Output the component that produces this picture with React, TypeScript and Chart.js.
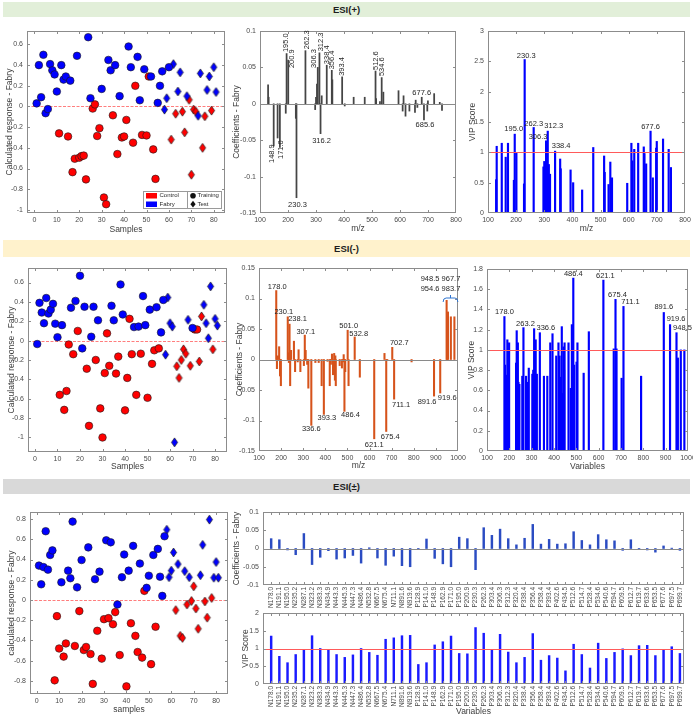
import React, { useEffect, useRef } from "react";
import { Chart, registerables } from "chart.js";

Chart.register(...registerables);

const PAGE_W = 693;
const PAGE_H = 715;
const SANS = "'Liberation Sans', Arial, Helvetica, sans-serif";
const TICK_COLOR = "#4a4a4a";
const TITLE_COLOR = "#3c3c3c";
const FRAME_COLOR = "#8c8c8c";
const NOTE_COLOR = "#262626";
const RED = "#ff0000";
const BLUE = "#0000ff";

// ---------------- axis ticks ----------------
const sampleTicks = [0, 10, 20, 30, 40, 50, 60, 70, 80];
const respTicks = [-1, -0.8, -0.6, -0.4, -0.2, 0, 0.2, 0.4, 0.6];
const pmRespTicks = [-0.8, -0.6, -0.4, -0.2, 0, 0.2, 0.4, 0.6, 0.8];
const posMzTicks = [100, 200, 300, 400, 500, 600, 700, 800];
const negMzTicks = [100, 200, 300, 400, 500, 600, 700, 800, 900, 1000];
const posCoefTicks = [-0.15, -0.1, -0.05, 0, 0.05, 0.1];
const negCoefTicks = [-0.15, -0.1, -0.05, 0, 0.05, 0.1, 0.15];
const pmCoefTicks = [-0.1, -0.05, 0, 0.05, 0.1];
const posVipTicks = [0, 0.5, 1, 1.5, 2, 2.5, 3];
const negVipTicks = [0, 0.2, 0.4, 0.6, 0.8, 1, 1.2, 1.4, 1.6, 1.8];
const pmVipTicks = [0, 0.5, 1, 1.5, 2];

// ---------------- ESI(+) predictions: [sample, calculated response] ----------------
const posFabryTraining = [[1, 0.03], [2, 0.4], [3, 0.09], [4, 0.5], [5, -0.065], [6, -0.025], [7, 0.41], [8, 0.35], [9, 0.31], [10, 0.145], [12, 0.4], [13, 0.26], [14, 0.29], [16, 0.25], [19, 0.49], [24, 0.67], [25, 0.08], [30, 0.17], [33, 0.45], [34, 0.35], [36, 0.4], [38, 0.1], [42, 0.58], [43, 0.38], [46, 0.48], [47, 0.06], [49, 0.36], [52, 0.29], [55, 0.035], [56, 0.2], [57, 0.34], [60, 0.38]];
const posControlTraining = [[11, -0.26], [15, -0.29], [17, -0.635], [18, -0.505], [20, -0.495], [21, -0.48], [22, -0.475], [23, -0.705], [26, -0.02], [27, 0.02], [28, -0.285], [29, -0.21], [31, -0.88], [32, -0.945], [35, -0.085], [37, -0.46], [39, -0.3], [40, -0.29], [41, -0.13], [44, -0.35], [45, 0.2], [48, -0.275], [50, -0.28], [51, 0.29], [53, -0.415], [54, -0.7]];
const posFabryTest = [[58, -0.03], [59, 0.08], [62, 0.41], [64, 0.145], [65, 0.33], [68, 0.1], [73, -0.09], [74, 0.32], [77, 0.16], [78, 0.29], [80, 0.38], [81, 0.14]];
const posControlTest = [[61, -0.32], [63, -0.07], [66, -0.05], [67, -0.25], [69, 0.065], [70, -0.66], [71, -0.03], [72, -0.05], [75, -0.4], [76, -0.095], [79, -0.04]];

// ESI(+) variables: m/z, PLS coefficients, VIP scores
const posMz = [128.9, 130.9, 148.9, 162.9, 171.0, 192.0, 195.0, 200.9, 228.0, 230.3, 262.3, 297.0, 300.0, 303.4, 306.3, 312.3, 316.2, 320.4, 338.4, 356.4, 358.4, 393.4, 402.6, 434.5, 474.0, 512.6, 514.7, 528.4, 534.6, 540.6, 594.7, 609.5, 612.7, 619.7, 633.6, 653.5, 656.0, 662.0, 677.6, 685.6, 697.5, 699.7, 722.0, 742.0, 750.0];
const posCoef = [0.026, 0.009, -0.058, -0.047, -0.06, -0.013, 0.069, 0.06, -0.02, -0.129, 0.073, -0.008, 0.009, 0.027, 0.05, 0.07, -0.041, 0.011, 0.053, 0.046, 0.033, 0.037, -0.003, 0.009, 0.009, 0.045, 0.007, 0.003, 0.036, 0.016, 0.018, -0.01, 0.011, -0.017, -0.01, -0.012, 0.005, -0.005, 0.009, -0.022, -0.01, 0.004, 0.014, 0.002, -0.009];
const posVip = [0.55, 1.1, 1.15, 0.92, 1.15, 0.54, 1.3, 0.99, 0.48, 2.53, 1.41, 0.76, 0.85, 0.6, 1.19, 1.35, 0.8, 0.64, 1.02, 0.89, 0.73, 0.71, 0.5, 0.38, 1.08, 0.94, 0.67, 0.47, 0.84, 0.58, 0.49, 1.15, 0.86, 1.05, 1.15, 1.09, 0.98, 0.81, 1.35, 0.58, 1.07, 1.18, 1.22, 1.05, 0.75];

// ---------------- ESI(-) predictions ----------------
const negFabryTraining = [[1, -0.035], [2, 0.39], [3, 0.29], [4, 0.18], [5, 0.44], [6, 0.28], [7, 0.32], [8, 0.38], [9, 0.175], [10, 0.035], [12, 0.16], [16, 0.34], [18, 0.41], [20, 0.67], [21, -0.08], [22, 0.35], [25, 0.04], [26, 0.35], [28, 0.21], [34, 0.36], [35, 0.21], [38, 0.58], [39, 0.27], [44, 0.14], [46, 0.145], [48, 0.46], [49, 0.16], [51, 0.32], [54, 0.345], [56, 0.085], [57, 0.42], [70, 0.13]];
const negControlTraining = [[11, -0.56], [13, -0.715], [14, -0.52], [15, -0.04], [17, -0.14], [19, 0.1], [23, -0.29], [24, -0.88], [27, -0.2], [29, -0.7], [30, -1.0], [31, -0.335], [32, 0.075], [33, -0.26], [36, -0.34], [37, -0.165], [40, -0.72], [41, -0.385], [42, 0.225], [43, -0.14], [45, -0.56], [47, -0.135], [50, -0.59], [52, -0.24], [53, -0.1], [55, -0.08], [71, 0.115], [72, 0.115]];
const negFabryTest = [[58, -0.145], [59, 0.445], [60, 0.18], [61, 0.145], [62, -1.05], [68, 0.215], [75, 0.37], [76, 0.18], [77, 0.025], [78, 0.56], [80, 0.225], [81, 0.155]];
const negControlTest = [[63, -0.265], [64, -0.385], [65, -0.2], [66, -0.09], [67, -0.135], [69, -0.26], [73, -0.215], [74, 0.25], [79, -0.09]];

// ESI(-) variables
const negMz = [178.0, 181.1, 185.0, 191.1, 195.0, 199.0, 230.1, 233.0, 235.2, 238.1, 240.9, 245.0, 258.0, 263.2, 275.0, 279.0, 287.1, 303.0, 307.1, 311.0, 318.0, 323.2, 336.6, 355.0, 370.0, 383.3, 393.3, 410.0, 420.0, 425.0, 430.0, 434.9, 440.0, 443.3, 445.3, 447.3, 465.0, 475.0, 480.0, 483.0, 486.4, 490.0, 501.0, 505.0, 532.8, 556.0, 621.1, 667.5, 675.4, 680.0, 702.7, 711.1, 790.0, 891.6, 919.6, 948.5, 951.0, 954.6, 967.7, 983.7];
const negCoef = [0.113, -0.015, 0.006, 0.021, -0.027, -0.043, 0.07, 0.011, -0.005, 0.058, -0.043, 0.015, 0.03, -0.02, -0.004, 0.016, -0.02, -0.01, 0.04, 0.015, -0.008, -0.047, -0.108, -0.005, -0.005, -0.043, -0.09, -0.003, -0.043, -0.008, 0.009, -0.025, 0.01, -0.034, 0.006, -0.043, -0.01, -0.014, -0.004, 0.008, -0.085, -0.02, 0.048, -0.043, 0.037, -0.029, -0.13, 0.01, -0.118, -0.002, 0.02, -0.065, -0.004, -0.06, -0.055, 0.097, 0.053, 0.078, 0.07, 0.07];
const negVip = [1.33, 0.85, 0.75, 1.1, 0.98, 1.07, 0.87, 1.19, 0.88, 1.07, 0.68, 0.66, 0.74, 1.22, 0.74, 0.68, 0.82, 0.76, 0.8, 1.21, 1.1, 0.76, 1.17, 0.74, 0.74, 1.07, 1.16, 0.94, 1.07, 0.94, 0.73, 1.23, 0.57, 1.03, 0.8, 1.07, 1.07, 0.62, 1.25, 0.74, 1.71, 0.85, 0.88, 1.07, 0.77, 1.18, 1.69, 1.01, 1.5, 1.01, 0.72, 1.43, 0.74, 1.37, 1.25, 1.17, 0.72, 0.92, 1.0, 1.0];

// ---------------- ESI(±) predictions ----------------
const pmFabryTraining = [[1, 0.34], [2, 0.155], [3, 0.325], [4, 0.68], [5, 0.3], [6, 0.445], [7, 0.49], [11, 0.175], [14, 0.29], [15, 0.215], [16, 0.775], [18, 0.125], [20, 0.395], [23, 0.52], [26, 0.205], [28, 0.28], [31, 0.59], [33, 0.57], [36, -0.045], [38, 0.225], [39, 0.45], [41, 0.29], [43, 0.535], [46, 0.36], [49, 0.12], [50, 0.24], [52, 0.445], [54, 0.505], [55, 0.23], [56, 0.04], [57, 0.63]];
const pmControlTraining = [[8, -0.795], [9, -0.16], [10, -0.48], [12, -0.56], [13, -0.43], [17, -0.455], [19, -0.11], [21, -0.495], [22, -0.465], [24, -0.535], [25, -0.83], [27, -0.305], [29, -0.58], [30, -0.19], [32, -0.18], [34, -0.24], [35, -0.12], [37, -0.545], [40, -0.855], [42, -0.23], [44, -0.355], [45, -0.515], [47, -0.57], [48, 0.09], [51, -0.635], [53, -0.265]];
const pmFabryTest = [[58, 0.695], [59, 0.225], [60, 0.29], [61, 0.47], [63, 0.355], [66, 0.285], [68, 0.225], [73, 0.245], [74, 0.545], [77, 0.795], [79, 0.22], [80, 0.375], [81, 0.22]];
const pmControlTest = [[62, -0.1], [64, -0.355], [65, -0.375], [67, -0.045], [69, -0.01], [70, 0.135], [71, -0.085], [72, -0.285], [75, -0.015], [76, -0.175], [78, 0.02]];

// ESI(±) combined variables
const pmNames = ["N178.0", "N191.1", "N195.0", "N235.2", "N287.1", "N323.2", "N383.3", "N434.9", "N443.3", "N445.3", "N447.3", "N486.4", "N532.8", "N667.5", "N675.4", "N711.1", "N891.6", "N919.6", "P128.9", "P141.0", "P148.9", "P162.9", "P171.0", "P195.0", "P200.9", "P230.3", "P262.3", "P303.4", "P306.3", "P312.3", "P320.4", "P338.4", "P356.4", "P358.4", "P393.4", "P402.6", "P434.5", "P512.6", "P514.7", "P528.4", "P534.6", "P540.6", "P594.7", "P609.5", "P612.7", "P619.7", "P633.6", "P653.5", "P677.6", "P697.5", "P699.7"];
const pmCoef = [0.027, 0.024, -0.004, -0.017, 0.041, -0.044, -0.024, -0.006, -0.029, -0.026, -0.019, -0.04, 0.002, -0.026, -0.046, -0.021, -0.047, -0.05, -0.002, 0.026, -0.027, -0.042, -0.05, 0.031, 0.027, -0.058, 0.057, 0.036, 0.053, 0.027, 0.01, 0.028, 0.066, 0.012, 0.025, 0.012, 0.013, 0.046, 0.022, 0.01, 0.038, 0.024, 0.021, -0.005, 0.024, -0.002, -0.004, -0.01, 0.007, 0.001, -0.005];
const pmVip = [1.35, 0.78, 0.6, 0.83, 0.96, 1.36, 1.0, 0.96, 0.83, 0.75, 0.82, 1.0, 0.89, 0.81, 1.26, 1.3, 1.36, 1.37, 0.55, 0.6, 1.1, 1.19, 1.35, 0.86, 0.85, 1.59, 1.43, 0.95, 1.4, 0.9, 0.6, 0.75, 1.42, 0.67, 0.8, 0.73, 0.37, 1.12, 0.83, 0.45, 1.15, 0.72, 0.89, 0.99, 0.8, 1.08, 1.09, 0.8, 0.97, 1.05, 0.86];

// ---------------- helpers ----------------
type Area = { l: number; t: number; r: number; b: number };

const fmtNum = (v: any) => String(Number(Number(v).toFixed(3)));

function xAxis(area: Area, min: number, max: number, ticks: number[], opts: any = {}) {
  return {
    type: "linear",
    position: "bottom",
    min,
    max,
    offset: false,
    grid: { display: false, drawTicks: false },
    border: { display: false },
    ticks: {
      font: { family: SANS, size: opts.fontSize || 7 },
      color: TICK_COLOR,
      padding: opts.padding ?? 3,
      autoSkip: false,
      maxRotation: opts.rotation || 0,
      minRotation: opts.rotation || 0,
      callback: opts.label || fmtNum,
    },
    afterBuildTicks: (s: any) => {
      s.ticks = ticks.map((v) => ({ value: v }));
    },
    afterFit: (s: any) => {
      s.height = PAGE_H - area.b;
      s.paddingLeft = 0;
      s.paddingRight = 0;
    },
  };
}

function yAxis(area: Area, min: number, max: number, ticks: number[]) {
  return {
    type: "linear",
    position: "left",
    min,
    max,
    grid: { display: false, drawTicks: false },
    border: { display: false },
    ticks: {
      font: { family: SANS, size: 7 },
      color: TICK_COLOR,
      padding: 4,
      autoSkip: false,
      callback: fmtNum,
    },
    afterBuildTicks: (s: any) => {
      s.ticks = ticks.map((v) => ({ value: v }));
    },
    afterFit: (s: any) => {
      s.width = area.l;
      s.paddingTop = 0;
      s.paddingBottom = 0;
    },
  };
}

function baseOptions(area: Area, x: any, y: any) {
  return {
    responsive: false,
    animation: false,
    events: [],
    layout: { padding: { left: 0, top: area.t, right: PAGE_W - area.r, bottom: 0 } },
    plugins: { legend: { display: false }, tooltip: { enabled: false } },
    scales: { x, y },
  };
}

type Note = { x: number; y: number; text: string; rot?: boolean; dx: number; dy: number };

// label each listed variable at the tip of its own bar
function notesFor(mz: number[], vals: number[], specs: Array<[number, boolean, number, number]>): Note[] {
  return specs.map(([m, rot, dx, dy]) => {
    const i = mz.indexOf(m);
    return { x: m, y: vals[i], text: m.toFixed(1), rot, dx, dy };
  });
}

function drawRef(chart: any, ref: any) {
  const { ctx, chartArea: a, scales } = chart;
  const y = Math.round(scales.y.getPixelForValue(ref.value)) + 0.5;
  ctx.save();
  ctx.strokeStyle = ref.color;
  ctx.lineWidth = ref.width || 1;
  ctx.setLineDash(ref.dash || []);
  ctx.beginPath();
  ctx.moveTo(a.left, y);
  ctx.lineTo(a.right, y);
  ctx.stroke();
  ctx.restore();
}

function decorPlugin(spec: any) {
  return {
    id: "decor",
    beforeDatasetsDraw(chart: any) {
      if (spec.ref && spec.ref.under) drawRef(chart, spec.ref);
    },
    afterDatasetsDraw(chart: any) {
      if (spec.ref && !spec.ref.under) drawRef(chart, spec.ref);
    },
    afterDraw(chart: any) {
      const { ctx, chartArea: a, scales } = chart;
      const xs = scales.x;
      const ys = scales.y;
      ctx.save();
      // box with inward ticks on all four sides
      ctx.strokeStyle = FRAME_COLOR;
      ctx.lineWidth = 1;
      ctx.strokeRect(a.left + 0.5, a.top + 0.5, a.right - a.left - 1, a.bottom - a.top - 1);
      const TL = 3;
      ctx.beginPath();
      xs.ticks.forEach((t: any) => {
        const p = Math.round(xs.getPixelForValue(t.value)) + 0.5;
        if (p <= a.left + 1 || p >= a.right - 1) return;
        ctx.moveTo(p, a.bottom);
        ctx.lineTo(p, a.bottom - TL);
        ctx.moveTo(p, a.top);
        ctx.lineTo(p, a.top + TL);
      });
      ys.ticks.forEach((t: any) => {
        const p = Math.round(ys.getPixelForValue(t.value)) + 0.5;
        if (p <= a.top + 1 || p >= a.bottom - 1) return;
        ctx.moveTo(a.left, p);
        ctx.lineTo(a.left + TL, p);
        ctx.moveTo(a.right, p);
        ctx.lineTo(a.right - TL, p);
      });
      ctx.stroke();

      // axis titles
      ctx.fillStyle = TITLE_COLOR;
      ctx.font = `8.5px ${SANS}`;
      ctx.textAlign = "center";
      ctx.textBaseline = "middle";
      if (spec.xTitle) ctx.fillText(spec.xTitle.text, (a.left + a.right) / 2, spec.xTitle.y);
      if (spec.yTitle) {
        ctx.save();
        ctx.translate(spec.yTitle.x, (a.top + a.bottom) / 2);
        ctx.rotate(-Math.PI / 2);
        ctx.fillText(spec.yTitle.text, 0, 0);
        ctx.restore();
      }

      // value labels
      if (spec.notes) {
        ctx.fillStyle = NOTE_COLOR;
        ctx.font = `7.5px ${SANS}`;
        spec.notes.forEach((n: Note) => {
          const px = xs.getPixelForValue(n.x) + n.dx;
          const py = ys.getPixelForValue(n.y) + n.dy;
          if (n.rot) {
            ctx.save();
            ctx.translate(px, py);
            ctx.rotate(-Math.PI / 2);
            ctx.textAlign = "left";
            ctx.textBaseline = "middle";
            ctx.fillText(n.text, 0, 0);
            ctx.restore();
          } else {
            ctx.textAlign = "center";
            ctx.textBaseline = "middle";
            ctx.fillText(n.text, px, py);
          }
        });
      }
      if (spec.extra) spec.extra(chart);
      ctx.restore();
    },
  };
}

function diamondSprite(fill: string) {
  const c = document.createElement("canvas");
  c.width = 9;
  c.height = 11;
  const g = c.getContext("2d") as CanvasRenderingContext2D;
  g.beginPath();
  g.moveTo(4.5, 1);
  g.lineTo(7.6, 5.5);
  g.lineTo(4.5, 10);
  g.lineTo(1.4, 5.5);
  g.closePath();
  g.fillStyle = fill;
  g.fill();
  g.lineWidth = 0.7;
  g.strokeStyle = "#1a1a1a";
  g.stroke();
  return c;
}

const toXY = (pts: number[][]) => pts.map(([x, y]) => ({ x, y }));

function scatterConfig(area: Area, xr: number[], yr: number[], yTicks: number[], groups: number[][][], sprites: any, spec: any) {
  const [fabryTr, controlTr, fabryTe, controlTe] = groups;
  const circles = (pts: number[][], fill: string) => ({
    data: toXY(pts),
    pointStyle: "circle",
    pointRadius: 3.8,
    pointBackgroundColor: fill,
    pointBorderColor: "#1a1a1a",
    pointBorderWidth: 0.6,
  });
  const diamonds = (pts: number[][], sprite: any) => ({
    data: toXY(pts),
    pointStyle: sprite,
    pointRadius: 4,
  });
  return {
    type: "scatter",
    data: {
      datasets: [
        circles(fabryTr, BLUE),
        circles(controlTr, RED),
        diamonds(fabryTe, sprites.blue),
        diamonds(controlTe, sprites.red),
      ],
    },
    options: baseOptions(area, xAxis(area, xr[0], xr[1], sampleTicks), yAxis(area, yr[0], yr[1], yTicks)),
    plugins: [
      decorPlugin({
        ...spec,
        ref: { value: 0, color: "rgba(255,40,40,0.6)", dash: [3, 1.5], under: true },
      }),
    ],
  };
}

function barConfig(area: Area, xs: number[], vals: number[], color: string, thickness: number, x: any, y: any, spec: any) {
  return {
    type: "bar",
    data: {
      datasets: [
        {
          data: xs.map((m, i) => ({ x: m, y: vals[i] })),
          backgroundColor: color,
          borderWidth: 0,
          barThickness: thickness,
          grouped: false,
        },
      ],
    },
    options: baseOptions(area, x, y),
    plugins: [decorPlugin(spec)],
  };
}

function drawTrainingLegend(chart: any) {
  const { ctx, chartArea: a } = chart;
  const x0 = a.right - 82;
  const y0 = a.bottom - 22;
  ctx.save();
  ctx.fillStyle = "#ffffff";
  ctx.strokeStyle = "#9a9a9a";
  ctx.lineWidth = 1;
  ctx.fillRect(x0, y0, 78, 17);
  ctx.strokeRect(x0 + 0.5, y0 + 0.5, 44, 17);
  ctx.strokeRect(x0 + 44.5, y0 + 0.5, 34, 17);
  ctx.fillStyle = RED;
  ctx.fillRect(x0 + 3, y0 + 2, 11, 5.5);
  ctx.fillStyle = BLUE;
  ctx.fillRect(x0 + 3, y0 + 10.5, 11, 5.5);
  ctx.fillStyle = "#111";
  ctx.beginPath();
  ctx.arc(x0 + 50, y0 + 4.8, 2.8, 0, Math.PI * 2);
  ctx.fill();
  ctx.beginPath();
  ctx.moveTo(x0 + 50, y0 + 9.8);
  ctx.lineTo(x0 + 52.6, y0 + 13.2);
  ctx.lineTo(x0 + 50, y0 + 16.6);
  ctx.lineTo(x0 + 47.4, y0 + 13.2);
  ctx.closePath();
  ctx.fill();
  ctx.fillStyle = "#2a2a2a";
  ctx.font = `6px ${SANS}`;
  ctx.textAlign = "left";
  ctx.textBaseline = "middle";
  ctx.fillText("Control", x0 + 16.5, y0 + 4.8);
  ctx.fillText("Fabry", x0 + 16.5, y0 + 13.2);
  ctx.fillText("Training", x0 + 54.5, y0 + 4.8);
  ctx.fillText("Test", x0 + 54.5, y0 + 13.2);
  ctx.restore();
}

function drawGroupBrace(chart: any) {
  const { ctx, scales } = chart;
  const xs = scales.x;
  const ys = scales.y;
  const group = [948.5, 954.6, 967.7, 983.7].filter((m) => negMz.includes(m));
  const x1 = xs.getPixelForValue(group[0]) - 3.5;
  const x2 = xs.getPixelForValue(group[group.length - 1]) + 3.5;
  const y = ys.getPixelForValue(0.1) - 0.5;
  const cx = (x1 + x2) / 2;
  ctx.save();
  ctx.strokeStyle = "#2f74d0";
  ctx.lineWidth = 1;
  ctx.beginPath();
  ctx.moveTo(x1, y + 4);
  ctx.quadraticCurveTo(x1, y, x1 + 3, y);
  ctx.lineTo(x2 - 3, y);
  ctx.quadraticCurveTo(x2, y, x2, y + 4);
  ctx.moveTo(cx, y);
  ctx.lineTo(cx, y - 3);
  ctx.stroke();
  ctx.fillStyle = NOTE_COLOR;
  ctx.font = `7.5px ${SANS}`;
  ctx.textAlign = "center";
  ctx.textBaseline = "middle";
  const tx = cx - 10;
  ctx.fillText(`${group[0].toFixed(1)} ${group[2].toFixed(1)}`, tx, y - 19);
  ctx.fillText(`${group[1].toFixed(1)} ${group[3].toFixed(1)}`, tx, y - 9);
  ctx.restore();
}

function buildConfigs() {
  const sprites = { red: diamondSprite(RED), blue: diamondSprite(BLUE) };
  const vipRef = { value: 1, color: "#ff5a5a", width: 1 };
  const zeroRef = { value: 0, color: "#8a8a8a", width: 1 };

  // ----- ESI(+) -----
  const A1: Area = { l: 27, t: 31, r: 225, b: 213 };
  const B1: Area = { l: 260, t: 31, r: 456, b: 213 };
  const C1: Area = { l: 488, t: 31, r: 685, b: 213 };
  // ----- ESI(-) -----
  const A2: Area = { l: 28, t: 268, r: 227, b: 452 };
  const B2: Area = { l: 259, t: 268, r: 458, b: 451 };
  const C2: Area = { l: 487, t: 269, r: 688, b: 451 };
  // ----- ESI(±) -----
  const A3: Area = { l: 30, t: 512, r: 228, b: 694 };
  const B3: Area = { l: 263, t: 512, r: 684, b: 585 };
  const C3: Area = { l: 263, t: 613, r: 684, b: 684 };

  const pmIndex = pmNames.map((_, i) => i + 1);
  const pmLabel = (v: any) => pmNames[Number(v) - 1] || "";

  return [
    scatterConfig(A1, [-3.3, 85], [-1.03, 0.73], respTicks, [posFabryTraining, posControlTraining, posFabryTest, posControlTest], sprites, {
      xTitle: { text: "Samples", y: 230 },
      yTitle: { text: "Calculated response - Fabry", x: 10 },
      extra: drawTrainingLegend,
    }),
    barConfig(B1, posMz, posCoef, "#454545", 1.1, xAxis(B1, 100, 800, posMzTicks), yAxis(B1, -0.15, 0.1, posCoefTicks), {
      xTitle: { text: "m/z", y: 229 },
      yTitle: { text: "Coefficients - Fabry", x: 237 },
      ref: zeroRef,
      notes: notesFor(posMz, posCoef, [
        [195.0, true, -1, -1.5],
        [200.9, true, 3.5, 8],
        [262.3, true, 1, -1.5],
        [306.3, true, -4, 0.5],
        [312.3, true, 1.5, -1.5],
        [338.4, true, 0, -1],
        [356.4, true, 0, -1],
        [393.4, true, 0, -1],
        [512.6, true, 0, -1],
        [534.6, true, 0, -1.5],
        [148.9, true, -1.5, 17],
        [171.0, true, 1, 11.5],
        [230.3, false, 1, 7],
        [316.2, false, 1, 7],
        [677.6, false, 0, -4.5],
        [685.6, false, 1, 5.5],
      ]),
    }),
    barConfig(C1, posMz, posVip, BLUE, 1.5, xAxis(C1, 100, 800, posMzTicks), yAxis(C1, 0, 3, posVipTicks), {
      xTitle: { text: "m/z", y: 229 },
      yTitle: { text: "VIP Score", x: 473 },
      ref: vipRef,
      notes: notesFor(posMz, posVip, [
        [195.0, false, -1, -5],
        [230.3, false, 1.5, -4],
        [262.3, false, 0, -4],
        [306.3, false, -8, -3.5],
        [312.3, false, 6, -5],
        [338.4, false, 6, -5],
        [677.6, false, 0, -4],
      ]),
    }),
    scatterConfig(A2, [-3.1, 85.3], [-1.15, 0.75], respTicks, [negFabryTraining, negControlTraining, negFabryTest, negControlTest], sprites, {
      xTitle: { text: "Samples", y: 467 },
      yTitle: { text: "Calculated response - Fabry", x: 12 },
    }),
    barConfig(B2, negMz, negCoef, "#d6531b", 1.4, xAxis(B2, 100, 1000, negMzTicks), yAxis(B2, -0.15, 0.15, negCoefTicks), {
      xTitle: { text: "m/z", y: 466 },
      yTitle: { text: "Coefficients - Fabry", x: 240 },
      ref: zeroRef,
      notes: notesFor(negMz, negCoef, [
        [178.0, false, 1, -3.5],
        [230.1, false, -4, -4.5],
        [238.1, false, 8, -5],
        [307.1, false, 1, -3.5],
        [501.0, false, 1, -4],
        [532.8, false, 4, -3],
        [702.7, false, 7, -4],
        [336.6, false, 0, 3.5],
        [393.3, false, 3, 4],
        [486.4, false, 6, 3.5],
        [621.1, false, 0, 6],
        [675.4, false, 4, 5.5],
        [711.1, false, 7, 6],
        [891.6, false, -7, 5.5],
        [919.6, false, 7, 5],
      ]),
      extra: drawGroupBrace,
    }),
    barConfig(C2, negMz, negVip, BLUE, 1.5, xAxis(C2, 100, 1000, negMzTicks), yAxis(C2, 0, 1.8, negVipTicks), {
      xTitle: { text: "Variables", y: 467 },
      yTitle: { text: "VIP Score", x: 472 },
      ref: vipRef,
      notes: notesFor(negMz, negVip, [
        [178.0, false, 0, -4.5],
        [263.2, false, 2, -4],
        [336.6, false, 6, -4.5],
        [486.4, false, 0, -4.5],
        [621.1, false, 2, -4.5],
        [675.4, false, 2, -4.5],
        [711.1, false, 7, -4],
        [891.6, false, 0, -6],
        [919.6, false, 6, -6],
        [948.5, false, 6, -5],
      ]),
    }),
    scatterConfig(A3, [-3.0, 85.3], [-0.93, 0.87], pmRespTicks, [pmFabryTraining, pmControlTraining, pmFabryTest, pmControlTest], sprites, {
      xTitle: { text: "samples", y: 710 },
      yTitle: { text: "calculated response - Fabry", x: 12 },
    }),
    barConfig(
      B3,
      pmIndex,
      pmCoef,
      "#2b4cc2",
      1.8,
      xAxis(B3, 0, 51.5, pmIndex, { rotation: 90, fontSize: 6.5, padding: 2, label: pmLabel }),
      yAxis(B3, -0.1, 0.1, pmCoefTicks),
      {
        yTitle: { text: "Coefficients - Fabry", x: 237 },
        ref: zeroRef,
      }
    ),
    barConfig(
      C3,
      pmIndex,
      pmVip,
      "#1a1aff",
      1.8,
      xAxis(C3, 0, 51.5, pmIndex, { rotation: 90, fontSize: 6.5, padding: 2, label: pmLabel }),
      yAxis(C3, 0, 2, pmVipTicks),
      {
        xTitle: { text: "Variables", y: 712 },
        yTitle: { text: "VIP Score", x: 246 },
        ref: vipRef,
      }
    ),
  ];
}

const sections = [
  { text: "ESI(+)", top: 2, height: 15, bg: "#e2efd9" },
  { text: "ESI(-)", top: 240, height: 17, bg: "#fff2cc" },
  { text: "ESI(±)", top: 479, height: 15, bg: "#d9d9d9" },
];

export default function App() {
  const canvasRefs = useRef<Array<HTMLCanvasElement | null>>([]);

  useEffect(() => {
    const configs = buildConfigs();
    const charts = configs.map((cfg: any, i: number) => new Chart(canvasRefs.current[i] as HTMLCanvasElement, cfg));
    return () => charts.forEach((c) => c.destroy());
  }, []);

  return (
    <div
      style={{
        position: "fixed",
        left: 0,
        top: 0,
        width: PAGE_W,
        height: PAGE_H,
        background: "#ffffff",
        overflow: "hidden",
        fontFamily: SANS,
      }}
    >
      {sections.map((s) => (
        <div
          key={s.text}
          style={{
            position: "absolute",
            left: 3,
            top: s.top,
            width: 687,
            height: s.height,
            background: s.bg,
            color: "#1e1e1e",
            fontWeight: 700,
            fontSize: 9.5,
            lineHeight: `${s.height}px`,
            textAlign: "center",
          }}
        >
          {s.text}
        </div>
      ))}
      {Array.from({ length: 9 }).map((_, i) => (
        <canvas
          key={i}
          ref={(el) => {
            canvasRefs.current[i] = el;
          }}
          width={PAGE_W}
          height={PAGE_H}
          style={{ position: "absolute", left: 0, top: 0, width: PAGE_W, height: PAGE_H }}
        />
      ))}
    </div>
  );
}
